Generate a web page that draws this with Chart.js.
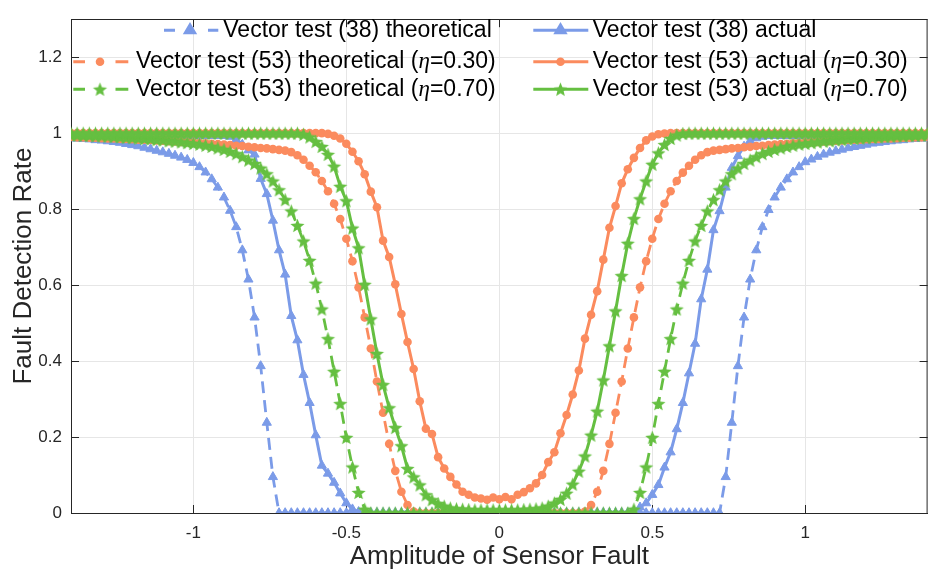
<!DOCTYPE html>
<html><head><meta charset="utf-8">
<script src="https://cdn.jsdelivr.net/npm/chart.js@4.4.1/dist/chart.umd.min.js"></script>
<style>
html,body{margin:0;padding:0;background:#fff;overflow:hidden;width:930px;height:570px}
#wrap{position:absolute;left:0;top:0;width:935px;height:570px}
</style>
</head><body><div id="wrap"><canvas id="c" width="935" height="570" style="width:935px;height:570px"></canvas></div>
<script>
// ---------------- DATA ----------------
const faultAmplitude = [
 -1.40,-1.38,-1.36,-1.34,-1.32,-1.30,-1.28,-1.26,-1.24,-1.22,
 -1.20,-1.18,-1.16,-1.14,-1.12,-1.10,-1.08,-1.06,-1.04,-1.02,
 -1.00,-0.98,-0.96,-0.94,-0.92,-0.90,-0.88,-0.86,-0.84,-0.82,
 -0.80,-0.78,-0.76,-0.74,-0.72,-0.70,-0.68,-0.66,-0.64,-0.62,
 -0.60,-0.58,-0.56,-0.54,-0.52,-0.50,-0.48,-0.46,-0.44,-0.42,
 -0.40,-0.38,-0.36,-0.34,-0.32,-0.30,-0.28,-0.26,-0.24,-0.22,
 -0.20,-0.18,-0.16,-0.14,-0.12,-0.10,-0.08,-0.06,-0.04,-0.02,
  0.00, 0.02, 0.04, 0.06, 0.08, 0.10, 0.12, 0.14, 0.16, 0.18,
  0.20, 0.22, 0.24, 0.26, 0.28, 0.30, 0.32, 0.34, 0.36, 0.38,
  0.40, 0.42, 0.44, 0.46, 0.48, 0.50, 0.52, 0.54, 0.56, 0.58,
  0.60, 0.62, 0.64, 0.66, 0.68, 0.70, 0.72, 0.74, 0.76, 0.78,
  0.80, 0.82, 0.84, 0.86, 0.88, 0.90, 0.92, 0.94, 0.96, 0.98,
  1.00, 1.02, 1.04, 1.06, 1.08, 1.10, 1.12, 1.14, 1.16, 1.18,
  1.20, 1.22, 1.24, 1.26, 1.28, 1.30, 1.32, 1.34, 1.36, 1.38,
  1.40];

const vec38Theoretical = [
 .987,.986,.985,.984,.982,.981,.979,.977,.975,.972,
 .969,.966,.962,.958,.954,.950,.946,.941,.936,.930,
 .922,.911,.897,.879,.857,.831,.796,.753,.692,.615,
 .515,.387,.238,.095,0,0,0,0,0,0,
 0,0,0,0,0,0,0,0,0,0,
 0,0,0,0,0,0,0,0,0,0,
 0,0,0,0,0,0,0,0,0,0,
 0,0,0,0,0,0,0,0,0,0,
 0,0,0,0,0,0,0,0,0,0,
 0,0,0,0,0,0,0,0,0,0,
 0,0,0,0,0,0,0,.095,.238,.387,
 .515,.615,.692,.753,.798,.831,.857,.879,.897,.911,
 .924,.931,.938,.944,.949,.953,.957,.961,.964,.967,
 .970,.973,.975,.977,.979,.981,.982,.984,.985,.986,
 .987];

const vec38Actual = [
 .993,.993,.993,.993,.993,.993,.993,.993,.993,.993,
 .993,.993,.993,.993,.993,.993,.993,.993,.993,.993,
 .993,.993,.993,.993,.993,.993,.991,.983,.970,.955,
 .944,.880,.840,.770,.692,.628,.519,.455,.364,.290,
 .205,.125,.104,.080,.052,.026,.010,.003,0,0,
 0,0,0,0,0,0,0,0,0,0,
 0,0,0,0,0,0,0,0,0,0,
 0,0,0,0,0,0,0,0,0,0,
 0,0,0,0,0,0,0,0,0,0,
 0,0,.005,.015,.026,.048,.074,.120,.160,.221,
 .290,.368,.446,.563,.641,.745,.795,.857,.909,.940,
 .965,.980,.987,.991,.993,.993,.993,.993,.993,.993,
 .993,.993,.993,.993,.993,.993,.993,.993,.993,.993,
 .993,.993,.993,.993,.993,.993,.993,.993,.993,.993,
 .993];

const vec53Theoretical030 = [
 .990,.989,.989,.988,.988,.987,.986,.986,.985,.985,
 .984,.983,.983,.982,.981,.980,.979,.978,.977,.976,
 .975,.974,.973,.972,.971,.970,.969,.967,.966,.964,
 .963,.961,.960,.958,.956,.954,.950,.942,.930,.914,
 .897,.874,.847,.814,.774,.722,.663,.594,.515,.433,
 .346,.264,.182,.111,.056,.021,.004,0,0,0,
 0,0,0,0,0,0,0,0,0,0,
 0,0,0,0,0,0,0,0,0,0,
 0,0,0,0,.004,.021,.056,.111,.182,.264,
 .346,.433,.515,.594,.663,.722,.774,.814,.847,.874,
 .896,.914,.930,.942,.950,.954,.956,.958,.960,.961,
 .963,.964,.966,.967,.969,.970,.971,.972,.973,.974,
 .975,.976,.977,.978,.979,.980,.981,.982,.983,.983,
 .984,.985,.985,.986,.986,.987,.988,.988,.989,.989,
 .990];

const vec53Actual030 = [
 1,1,1,1,1,1,1,1,1,1,
 1,1,1,1,1,1,1,1,1,1,
 1,1,1,1,1,1,1,1,1,1,
 1,1,1,1,1,1,1,1,1,1,
 1,1,.998,.993,.986,.972,.951,.926,.892,.846,
 .805,.717,.674,.602,.524,.450,.379,.294,.222,.208,
 .147,.117,.095,.075,.056,.048,.041,.038,.035,.041,
 .036,.042,.036,.048,.055,.065,.078,.100,.134,.160,
 .210,.258,.312,.375,.459,.522,.584,.667,.751,.808,
 .868,.905,.935,.961,.981,.991,.997,.999,1,1,
 1,1,1,1,1,1,1,1,1,1,
 1,1,1,1,1,1,1,1,1,1,
 1,1,1,1,1,1,1,1,1,1,
 1,1,1,1,1,1,1,1,1,1,
 1];

const vec53Theoretical070 = [
 .995,.995,.994,.994,.993,.993,.992,.991,.990,.989,
 .988,.987,.986,.985,.983,.982,.980,.979,.977,.975,
 .973,.971,.968,.965,.961,.957,.952,.946,.938,.929,
 .920,.908,.893,.874,.851,.825,.795,.757,.716,.665,
 .605,.537,.459,.373,.288,.199,.121,.054,.010,0,
 0,0,0,0,0,0,0,0,0,0,
 0,0,0,0,0,0,0,0,0,0,
 0,0,0,0,0,0,0,0,0,0,
 0,0,0,0,0,0,0,0,0,0,
 0,0,.010,.054,.121,.199,.288,.373,.459,.537,
 .605,.665,.716,.757,.795,.825,.851,.874,.893,.908,
 .920,.929,.938,.946,.952,.957,.961,.965,.968,.971,
 .973,.975,.977,.979,.980,.982,.983,.985,.986,.987,
 .988,.989,.990,.991,.992,.993,.993,.994,.994,.995,
 .995];

const vec53Actual070 = [
 1,1,1,1,1,1,1,1,1,1,
 1,1,1,1,1,1,1,1,1,1,
 1,1,1,1,1,1,1,1,1,1,
 1,1,1,1,1,1,1,1,.997,.990,
 .978,.965,.944,.913,.860,.822,.750,.698,.602,.511,
 .420,.338,.277,.225,.177,.117,.095,.074,.048,.035,
 .025,.018,.013,.011,.010,.009,.008,.008,.008,.008,
 .008,.008,.008,.008,.009,.010,.011,.013,.018,.026,
 .036,.052,.076,.110,.150,.205,.268,.350,.440,.532,
 .625,.710,.775,.827,.874,.918,.948,.970,.986,.995,
 .999,1,1,1,1,1,1,1,1,1,
 1,1,1,1,1,1,1,1,1,1,
 1,1,1,1,1,1,1,1,1,1,
 1,1,1,1,1,1,1,1,1,1,
 1];

const seriesLabels = [
 'Vector test (38) theoretical',
 'Vector test (38) actual',
 'Vector test (53) theoretical (η=0.30)',
 'Vector test (53) actual (η=0.30)',
 'Vector test (53) theoretical (η=0.70)',
 'Vector test (53) actual (η=0.70)'
];
const xTickValues = [-1, -0.5, 0, 0.5, 1];
const xTickLabels = ['-1', '-0.5', '0', '0.5', '1'];
const yTickValues = [0, 0.2, 0.4, 0.6, 0.8, 1, 1.2];
const yTickLabels = ['0', '0.2', '0.4', '0.6', '0.8', '1', '1.2'];
const xAxisTitle = 'Amplitude of Sensor Fault';
const yAxisTitle = 'Fault Detection Rate';

// ---------------- STYLE ----------------
const FONT = '"Liberation Sans", Arial, Helvetica, sans-serif';
const BLUE = '#7b9be8', ORANGE = '#fb8b5e', GREEN = '#65bf41';
const AXIS = '#262626';

function makeStar(color, R) {
  const s = Math.ceil(2 * R + 2);
  const c = document.createElement('canvas');
  c.width = s; c.height = s;
  const g = c.getContext('2d');
  g.beginPath();
  for (let k = 0; k < 10; k++) {
    const r = (k % 2) ? R * 0.44 : R;
    const a = -Math.PI / 2 + k * Math.PI / 5;
    g.lineTo(s / 2 + r * Math.cos(a), s / 2 + r * Math.sin(a) + 0.7);
  }
  g.closePath();
  g.fillStyle = color;
  g.fill();
  return c;
}
const starImg = makeStar(GREEN, 7.4);

function pts(arr) { return faultAmplitude.map((x, i) => ({ x: x, y: arr[i] })); }
const DASH = [12, 7];

function ds(label, arr, color, dashed, style, radius, order) {
  return {
    label: label, data: pts(arr), order: order,
    borderColor: color, backgroundColor: color,
    pointBackgroundColor: color, pointBorderColor: color,
    borderWidth: dashed ? 2.8 : 3, borderDash: dashed ? DASH : [],
    pointStyle: style, pointRadius: radius, pointHoverRadius: radius,
    pointBorderWidth: style === 'triangle' ? 1 : 0, tension: 0
  };
}

const datasets = [
  ds(seriesLabels[0], vec38Theoretical, BLUE, true, 'triangle', 5.3, 6),
  ds(seriesLabels[1], vec38Actual, BLUE, false, 'triangle', 5.3, 5),
  ds(seriesLabels[2], vec53Theoretical030, ORANGE, true, 'circle', 4.3, 4),
  ds(seriesLabels[3], vec53Actual030, ORANGE, false, 'circle', 4.3, 3),
  ds(seriesLabels[4], vec53Theoretical070, GREEN, true, starImg, 7.4, 2),
  ds(seriesLabels[5], vec53Actual070, GREEN, false, starImg, 7.4, 1)
];

// frame: top box line + inward tick marks
const framePlugin = {
  id: 'frame',
  beforeDatasetsDraw(chart) {
    const { ctx, chartArea: a, scales } = chart;
    ctx.save();
    ctx.strokeStyle = AXIS; ctx.lineWidth = 1;
    ctx.beginPath();
    ctx.moveTo(a.left, Math.round(a.top) + 0.5); ctx.lineTo(a.right, Math.round(a.top) + 0.5);
    ctx.moveTo(a.right - 0.5, a.top); ctx.lineTo(a.right - 0.5, a.bottom);
    xTickValues.forEach(v => {
      const p = Math.round(scales.x.getPixelForValue(v)) + 0.5;
      ctx.moveTo(p, a.bottom); ctx.lineTo(p, a.bottom - 8);
      ctx.moveTo(p, a.top); ctx.lineTo(p, a.top + 8);
    });
    yTickValues.forEach(v => {
      const p = Math.round(scales.y.getPixelForValue(v)) + 0.5;
      ctx.moveTo(a.left, p); ctx.lineTo(a.left + 8, p);
      ctx.moveTo(a.right, p); ctx.lineTo(a.right - 8, p);
    });
    ctx.stroke();
    ctx.restore();
  }
};

// legend (two columns, no box), drawn by the chart
const legendLayout = [
  { textX: 223.3, baseY: 36.7, segs: [[164, 175], [208, 218.3]], mx: 190 },
  { textX: 592.7, baseY: 36.7, segs: [[533.3, 588.3]], mx: 560.5 },
  { textX: 136, baseY: 68.3, segs: [[73.3, 85], [115.5, 128.3]], mx: 100 },
  { textX: 592.7, baseY: 68.3, segs: [[533.3, 588.3]], mx: 560.5 },
  { textX: 136, baseY: 95.7, segs: [[73.3, 85], [115.5, 128.3]], mx: 100 },
  { textX: 592.7, baseY: 95.7, segs: [[533.3, 588.3]], mx: 560.5 }
];
const legendPlugin = {
  id: 'matlabLegend',
  afterDraw(chart) {
    const ctx = chart.ctx;
    ctx.save();
    legendLayout.forEach((L, i) => {
      const d = chart.data.datasets[i];
      const ly = L.baseY - 6.5;
      ctx.strokeStyle = d.borderColor; ctx.lineWidth = 3; ctx.setLineDash([]);
      ctx.beginPath();
      L.segs.forEach(s => { ctx.moveTo(s[0], ly); ctx.lineTo(s[1], ly); });
      ctx.stroke();
      ctx.fillStyle = d.borderColor;
      Chart.helpers.drawPoint(ctx, { pointStyle: d.pointStyle, radius: d.pointRadius, rotation: 0, borderWidth: d.pointBorderWidth }, L.mx, ly);
      // text
      const parts = d.label.split('η');
      ctx.fillStyle = '#000';
      ctx.textBaseline = 'alphabetic'; ctx.textAlign = 'left';
      let x = L.textX;
      ctx.font = '23px ' + FONT;
      ctx.fillText(parts[0], x, L.baseY);
      x += ctx.measureText(parts[0]).width;
      if (parts.length > 1) {
        ctx.font = 'italic 23px "Liberation Serif", "DejaVu Serif", serif';
        ctx.fillText('η', x, L.baseY);
        x += ctx.measureText('η').width;
        ctx.font = '23px ' + FONT;
        ctx.fillText(parts[1], x, L.baseY);
      }
    });
    ctx.restore();
  }
};

new Chart(document.getElementById('c'), {
  type: 'line',
  data: { datasets: datasets },
  plugins: [framePlugin, legendPlugin],
  options: {
    responsive: false, animation: false, devicePixelRatio: 1, events: [],
    layout: { padding: { top: 12, left: 0, right: 0, bottom: 0 } },
    plugins: { legend: { display: false }, tooltip: { enabled: false } },
    scales: {
      x: {
        type: 'linear', min: -1.4, max: 1.4,
        afterBuildTicks: s => { s.ticks = xTickValues.map(v => ({ value: v })); },
        afterFit: s => { s.height = 57; },
        ticks: { callback: v => xTickLabels[xTickValues.indexOf(v)], font: { family: FONT, size: 17 }, color: AXIS, padding: 10, maxRotation: 0, autoSkip: false },
        grid: { color: '#e6e6e6', lineWidth: 1, drawTicks: false },
        border: { display: true, color: AXIS, width: 1 },
        title: { display: true, text: xAxisTitle, font: { family: FONT, size: 26, lineHeight: 1 }, color: AXIS, padding: { top: 0, bottom: 0 } }
      },
      y: {
        type: 'linear', min: 0, max: 1.3,
        afterBuildTicks: s => { s.ticks = yTickValues.map(v => ({ value: v })); },
        afterFit: s => { s.width = 71; },
        ticks: { callback: v => yTickLabels[yTickValues.indexOf(v)], font: { family: FONT, size: 17 }, color: AXIS, padding: 9, autoSkip: false },
        grid: { color: '#e6e6e6', lineWidth: 1, drawTicks: false },
        border: { display: true, color: AXIS, width: 1 },
        title: { display: true, text: yAxisTitle, font: { family: FONT, size: 26, lineHeight: 1 }, color: AXIS, padding: { top: 11, bottom: 0 } }
      }
    }
  }
});
</script>
</body></html>
